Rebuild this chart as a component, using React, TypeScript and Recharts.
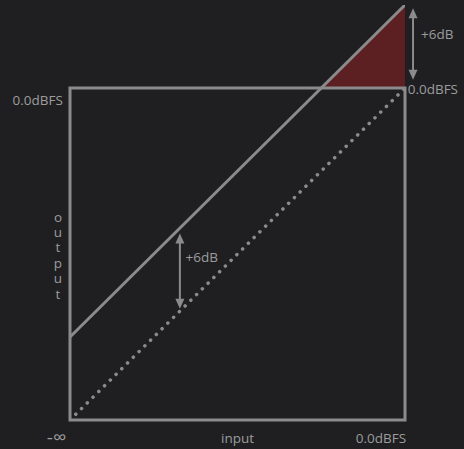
import React from 'react';
import { ComposedChart, Line, Area, XAxis, YAxis, ReferenceArea, ReferenceLine, ReferenceDot } from 'recharts';

// input level (0 = -inf, 1 = 0dBFS), output levels
const inputs = [0, 0.75, 1];
const boosted = [0.25, 1.0, 1.25];
const unity = [0, 0.75, 1];
const clipLow = [null, 1, 1];
const clipHigh = [null, 1, 1.25];

const arrows = [
  { x: 0.328, y1: 0.335, y2: 0.562 },
  { x: 1.024, y1: 1.025, y2: 1.24 },
];

const labels = [
  { text: '0.0dBFS', x: -0.021, y: 0.963, anchor: 'end', size: 13.5 },
  { text: '0.0dBFS', x: 1.008, y: 0.998, anchor: 'start', size: 13.5 },
  { text: '+6dB', x: 1.048, y: 1.163, anchor: 'start', size: 13.5 },
  { text: '+6dB', x: 0.345, y: 0.49, anchor: 'start', size: 13.5 },
  { text: '-∞', x: -0.04, y: -0.052, anchor: 'middle', size: 19 },
  { text: 'input', x: 0.5, y: -0.054, anchor: 'middle', size: 13.5 },
  { text: '0.0dBFS', x: 0.928, y: -0.054, anchor: 'middle', size: 13.5 },
];

const verticalLabel = 'output';
const verticalLabelPos = { x: -0.036, y: 0.64 };

const data = inputs.map((x, i) => ({
  x,
  boosted: boosted[i],
  unity: unity[i],
  clip: clipLow[i] == null ? null : [clipLow[i], clipHigh[i]],
}));

const GRAY = '#8b8b8b';
const TEXT = '#9c9c9c';
const BG = '#1f1f22';
const FONT = '"Open Sans", "DejaVu Sans", sans-serif';

const ArrowShape = (props: any) => {
  const { x1, y1, x2, y2 } = props;
  const top = Math.min(y1, y2);
  const bot = Math.max(y1, y2);
  const hw = 4.5;
  const hl = 10;
  return (
    <g>
      <line x1={x1} y1={top + hl - 1} x2={x2} y2={bot - hl + 1} stroke={GRAY} strokeWidth={2} />
      <polygon points={`${x1},${top} ${x1 - hw},${top + hl} ${x1 + hw},${top + hl}`} fill={GRAY} />
      <polygon points={`${x1},${bot} ${x1 - hw},${bot - hl} ${x1 + hw},${bot - hl}`} fill={GRAY} />
    </g>
  );
};

export default function App() {
  return (
    <div style={{ position: 'absolute', left: 0, top: 0, width: 464, height: 449, background: BG }}>
      <ComposedChart
        width={464}
        height={449}
        data={data}
        margin={{ top: 5, right: 59, bottom: 29, left: 70 }}
      >
        <XAxis dataKey="x" type="number" domain={[0, 1]} hide allowDataOverflow />
        <YAxis type="number" domain={[0, 1.25]} hide allowDataOverflow />
        <Area
          dataKey="clip"
          type="linear"
          stroke="none"
          fill="#5c1f22"
          fillOpacity={1}
          isAnimationActive={false}
          connectNulls={false}
        />
        <ReferenceArea x1={0} x2={1} y1={0} y2={1} stroke={GRAY} strokeWidth={3} fill="none" fillOpacity={0} ifOverflow="visible" />
        <Line dataKey="boosted" type="linear" stroke={GRAY} strokeWidth={3} dot={false} isAnimationActive={false} />
        <Line
          dataKey="unity"
          type="linear"
          stroke={GRAY}
          strokeWidth={3.5}
          strokeDasharray="0.1 8"
          strokeLinecap="round"
          dot={false}
          isAnimationActive={false}
        />
        {arrows.map((a, i) => (
          <ReferenceLine
            key={'a' + i}
            segment={[{ x: a.x, y: a.y1 }, { x: a.x, y: a.y2 }]}
            ifOverflow="visible"
            shape={ArrowShape}
          />
        ))}
        {labels.map((l, i) => (
          <ReferenceDot
            key={'l' + i}
            x={l.x}
            y={l.y}
            ifOverflow="visible"
            shape={(p: any) => (
              <text
                x={p.cx}
                y={p.cy}
                textAnchor={l.anchor}
                dominantBaseline="central"
                fill={TEXT}
                fontSize={l.size}
                fontFamily={FONT}
              >
                {l.text}
              </text>
            )}
          />
        ))}
        <ReferenceDot
          x={verticalLabelPos.x}
          y={verticalLabelPos.y}
          ifOverflow="visible"
          shape={(p: any) => (
            <text
              x={p.cx}
              y={p.cy}
              fill={TEXT}
              fontSize={13.5}
              fontFamily={FONT}
              style={{ writingMode: 'vertical-rl', textOrientation: 'upright', letterSpacing: -2.6 } as any}
            >
              {verticalLabel}
            </text>
          )}
        />
      </ComposedChart>
    </div>
  );
}
